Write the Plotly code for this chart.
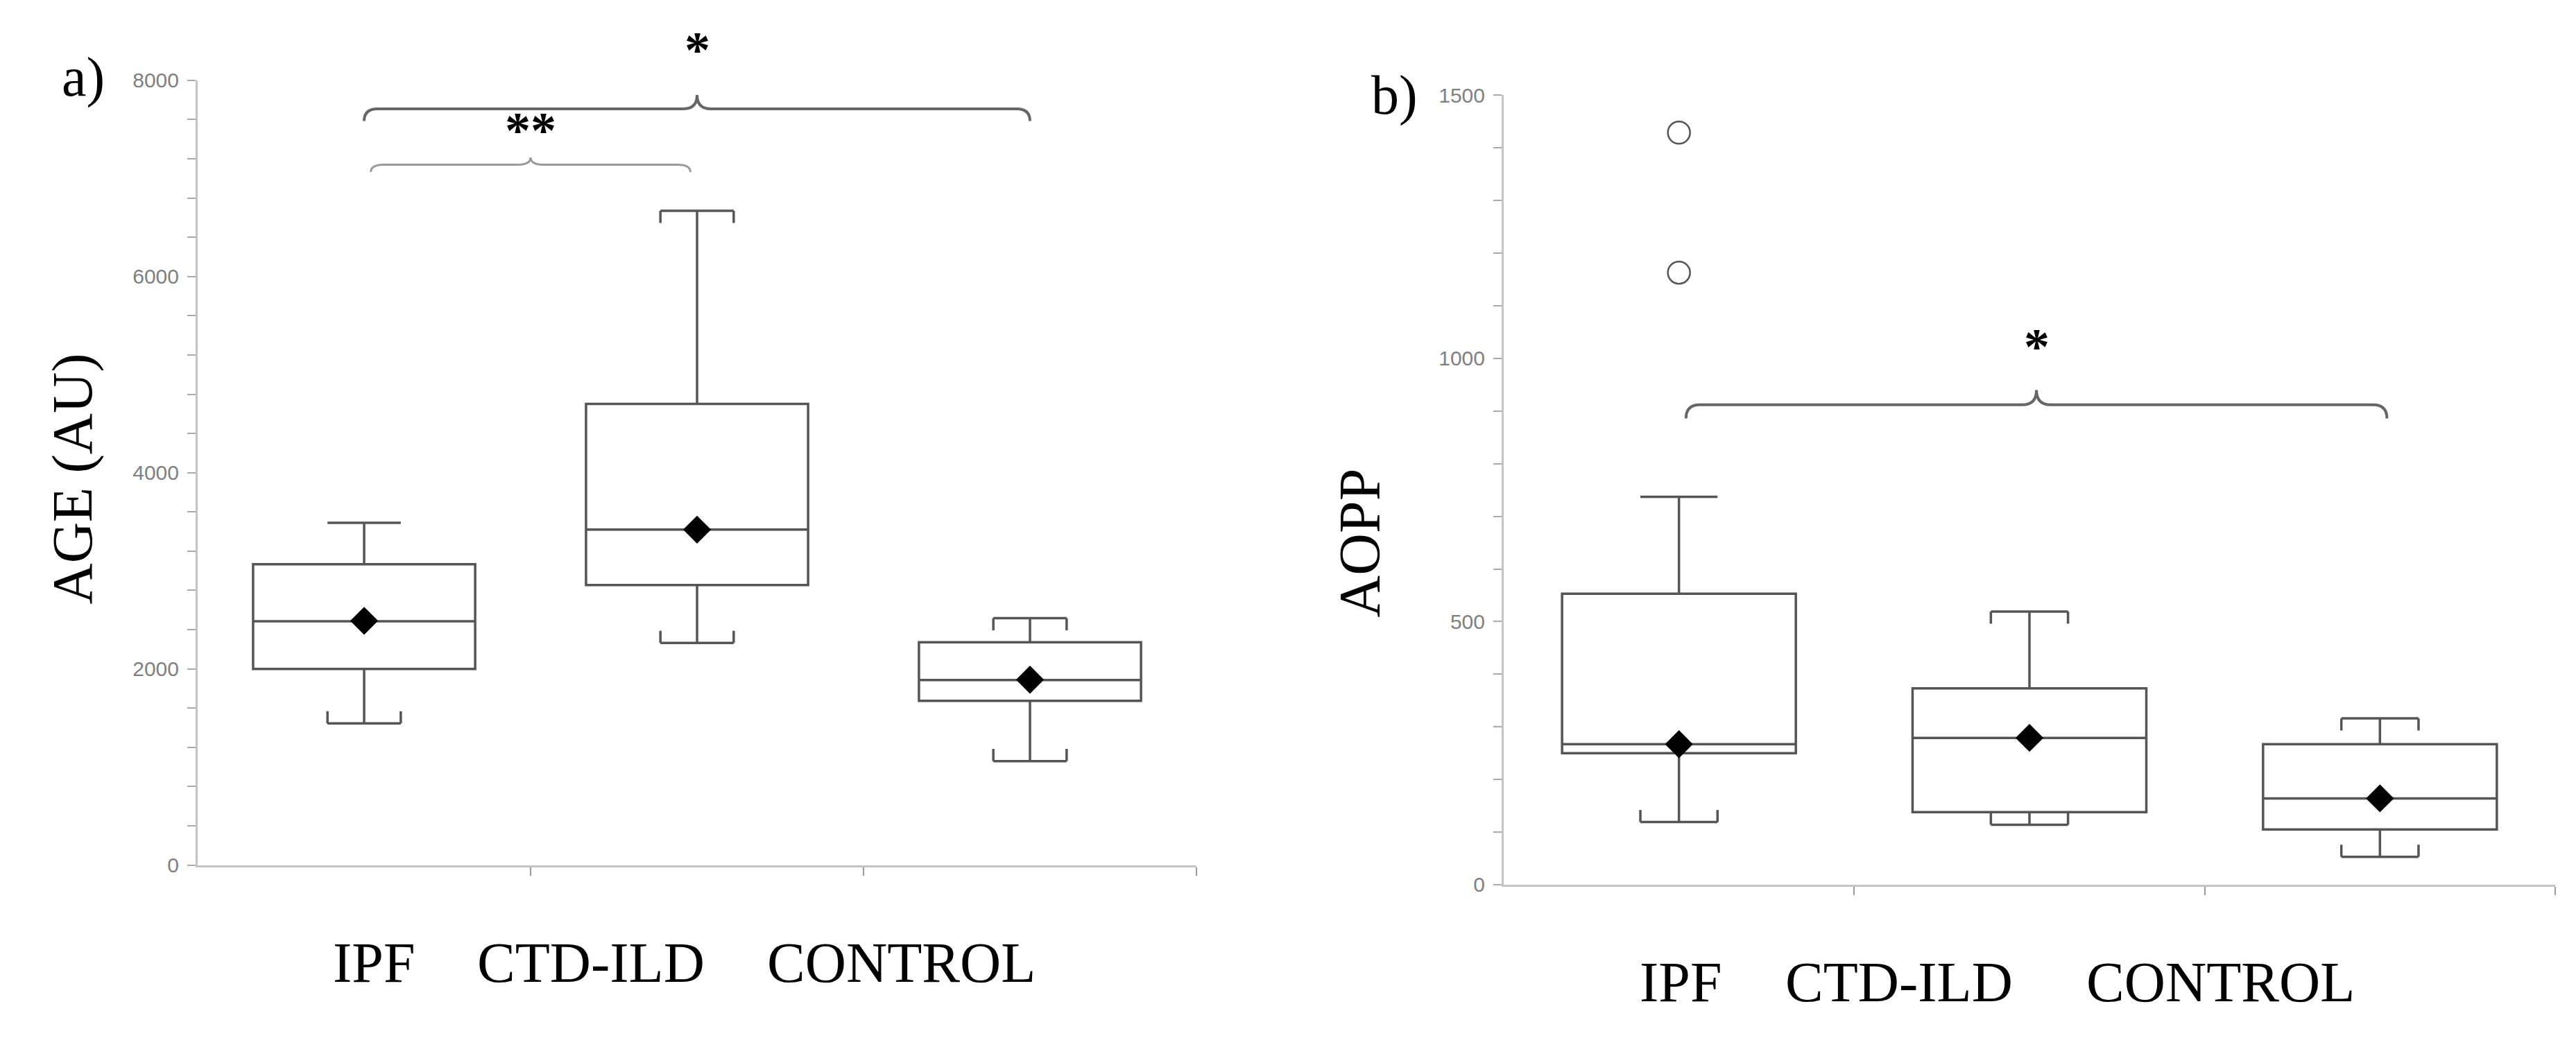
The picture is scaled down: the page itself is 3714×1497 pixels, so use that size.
import plotly.graph_objects as go

# ---------------- data ----------------
categories = ["IPF", "CTD-ILD", "CONTROL"]
cat_pos = [0, 1, 2]

# panel a) AGE (AU)
age_lower = [1444, 2265, 1060]
age_q1 = [2000, 2855, 1675]
age_median = [2485, 3420, 1887]
age_q3 = [3066, 4702, 2272]
age_upper = [3490, 6670, 2517]
age_mean = [2490, 3420, 1890]
age_ticks = [0, 2000, 4000, 6000, 8000]
age_range = [0, 8000]

# panel b) AOPP
aopp_lower = [119, 114, 53]
aopp_q1 = [250, 138, 105]
aopp_median = [267, 279, 164]
aopp_q3 = [553, 373, 267]
aopp_upper = [737, 519, 316]
aopp_mean = [267, 279, 164]
aopp_outlier_cat = [0, 0]
aopp_outlier_val = [1429, 1163]
aopp_ticks = [0, 500, 1000, 1500]
aopp_range = [0, 1500]

# whisker cap serifs (upper / lower) per category
upper_serif = [False, True, True]
lower_serif = [True, True, True]

# significance brackets: (from, to, level, label)
age_brackets = [(0, 2, 7710, "*"), (0, 1, 7140, "**")]
aopp_brackets = [(0, 2, 912, "*")]

# ---------------- layout helpers ----------------
W, H = 3714, 1497
def px(x):
    return x / W
def py(y):
    return 1 - y / H

BOX_COLOR = "#555555"
AXIS_COLOR = "#c4c4c4"
TICKFONT = dict(family="Liberation Sans", size=30, color="#808080")
SERIF = "Liberation Serif"

# plot-area pixel boxes
A_X0, A_X1, A_Y0, A_Y1 = 277, 1717, 1251, 93
B_X0, B_X1, B_Y0, B_Y1 = 2160, 3676, 1280, 115

fig = go.Figure()

def add_panel(xa, ya, lower, q1, med, q3, upper, mean, serif_len):
    xref = "x" if xa == 1 else "x%d" % xa
    yref = "y" if ya == 1 else "y%d" % ya
    for i in range(len(cat_pos)):
        fig.add_trace(go.Box(
            x=[cat_pos[i]], q1=[q1[i]], median=[med[i]], q3=[q3[i]],
            lowerfence=[lower[i]], upperfence=[upper[i]],
            width=0.667, whiskerwidth=0.33, boxpoints=False,
            fillcolor="white", line=dict(color=BOX_COLOR, width=3.5),
            xaxis=xref, yaxis=yref, showlegend=False, hoverinfo="skip"))
    sx, sy = [], []
    half = 0.667 * 0.33 / 2
    for i in range(len(cat_pos)):
        c = cat_pos[i]
        if upper_serif[i]:
            for d in (-half, half):
                sx += [c + d, c + d, None]
                sy += [upper[i], upper[i] - serif_len, None]
        if lower_serif[i]:
            for d in (-half, half):
                sx += [c + d, c + d, None]
                sy += [lower[i], lower[i] + serif_len, None]
    fig.add_trace(go.Scatter(x=sx, y=sy, mode="lines",
                             line=dict(color=BOX_COLOR, width=3.5),
                             xaxis=xref, yaxis=yref, showlegend=False,
                             hoverinfo="skip"))
    fig.add_trace(go.Scatter(x=cat_pos, y=mean, mode="markers",
                             marker=dict(symbol="diamond", size=31, color="black"),
                             xaxis=xref, yaxis=yref, showlegend=False,
                             hoverinfo="skip"))

add_panel(1, 1, age_lower, age_q1, age_median, age_q3, age_upper, age_mean, 124)
add_panel(2, 2, aopp_lower, aopp_q1, aopp_median, aopp_q3, aopp_upper, aopp_mean, 23)

fig.add_trace(go.Scatter(x=aopp_outlier_cat, y=aopp_outlier_val, mode="markers",
                         marker=dict(symbol="circle-open", size=32,
                                     color="#555555", line=dict(width=2.5)),
                         xaxis="x2", yaxis="y2", showlegend=False,
                         hoverinfo="skip"))

def brace(xref, yref, x0, x1, y, drop, rise, dx, color, width):
    xm = (x0 + x1) / 2
    path = (f"M {x0},{y - drop} Q {x0},{y} {x0 + dx},{y} "
            f"L {xm - dx},{y} Q {xm},{y} {xm},{y + rise} "
            f"Q {xm},{y} {xm + dx},{y} "
            f"L {x1 - dx},{y} Q {x1},{y} {x1},{y - drop}")
    fig.add_shape(type="path", path=path, xref=xref, yref=yref,
                  line=dict(color=color, width=width))

def val_to_paper(v, rng, y0, y1):
    pix = y0 - (v - rng[0]) / (rng[1] - rng[0]) * (y0 - y1)
    return py(pix)

annotations = []
STAR_FONT = dict(family=SERIF, size=74, color="black", weight="bold")
for k, (a, b, lvl, lab) in enumerate(age_brackets):
    big = k == 0
    x0 = cat_pos[a] + (0.0 if big else 0.02)
    x1 = cat_pos[b] + (0.0 if big else -0.02)
    brace("x", "y", x0, x1, lvl, 125 if big else 75, 140 if big else 75, 0.04,
          "#666666" if big else "#9a9a9a", 4 if big else 3)
    xm = (x0 + x1) / 2
    annotations.append(dict(
        x=px(A_X0 + (xm + 0.5) / 3 * (A_X1 - A_X0)),
        y=val_to_paper(lvl + (600 if big else 350), age_range, A_Y0, A_Y1),
        xref="paper", yref="paper", text=lab, showarrow=False,
        font=STAR_FONT, xanchor="center", yanchor="middle"))
for (a, b, lvl, lab) in aopp_brackets:
    x0 = cat_pos[a] + 0.02
    x1 = cat_pos[b] + 0.02
    brace("x2", "y2", x0, x1, lvl, 26, 28, 0.04, "#666666", 4)
    xm = (x0 + x1) / 2
    annotations.append(dict(
        x=px(B_X0 + (xm + 0.5) / 3 * (B_X1 - B_X0)),
        y=val_to_paper(lvl + 110, aopp_range, B_Y0, B_Y1),
        xref="paper", yref="paper", text=lab, showarrow=False,
        font=STAR_FONT, xanchor="center", yanchor="middle"))

def ptext(x, y, text, size, angle=0):
    annotations.append(dict(x=px(x), y=py(y), xref="paper", yref="paper",
                            text=text, showarrow=False, textangle=angle,
                            font=dict(family=SERIF, size=size, color="black"),
                            xanchor="center", yanchor="middle"))

ptext(112, 88, "a)", 80)
ptext(2002, 115, "b)", 80)
ptext(97, 681, "AGE (AU)", 82, -90)
ptext(1952, 776, "AOPP", 84, -90)
for name, xc in zip(categories, [531, 844, 1291]):
    ptext(xc, 1395, name, 82)
for name, xc in zip(categories, [2415, 2730, 3193]):
    ptext(xc, 1424, name, 82)

xaxis_common = dict(range=[-0.5, 2.5], showgrid=False, zeroline=False,
                    showline=True, linecolor=AXIS_COLOR, linewidth=3,
                    tickvals=[0.5, 1.5, 2.5], ticks="outside", ticklen=12,
                    tickwidth=2, tickcolor="#9a9a9a", showticklabels=False,
                    fixedrange=True)
yaxis_common = dict(showgrid=False, zeroline=False, showline=True,
                    linecolor=AXIS_COLOR, linewidth=3, ticks="outside",
                    ticklen=12, tickwidth=2, tickcolor="#aaaaaa",
                    tickfont=TICKFONT, ticklabelstandoff=6)

fig.update_layout(
    width=W, height=H, margin=dict(l=0, r=0, t=0, b=0),
    paper_bgcolor="white", plot_bgcolor="white",
    xaxis=dict(domain=[px(A_X0), px(A_X1)], anchor="y", **xaxis_common),
    yaxis=dict(domain=[py(A_Y0), py(A_Y1)], anchor="x", range=age_range,
               tickvals=age_ticks,
               minor=dict(dtick=400, tick0=0, ticks="outside", ticklen=12,
                          tickwidth=2, tickcolor="#aaaaaa"),
               **yaxis_common),
    xaxis2=dict(domain=[px(B_X0), px(B_X1)], anchor="y2", **xaxis_common),
    yaxis2=dict(domain=[py(B_Y0), py(B_Y1)], anchor="x2", range=aopp_range,
                tickvals=aopp_ticks,
                minor=dict(dtick=100, tick0=0, ticks="outside", ticklen=12,
                           tickwidth=2, tickcolor="#aaaaaa"),
                **yaxis_common),
    annotations=annotations,
    showlegend=False,
)

fig.write_html("out.html")
